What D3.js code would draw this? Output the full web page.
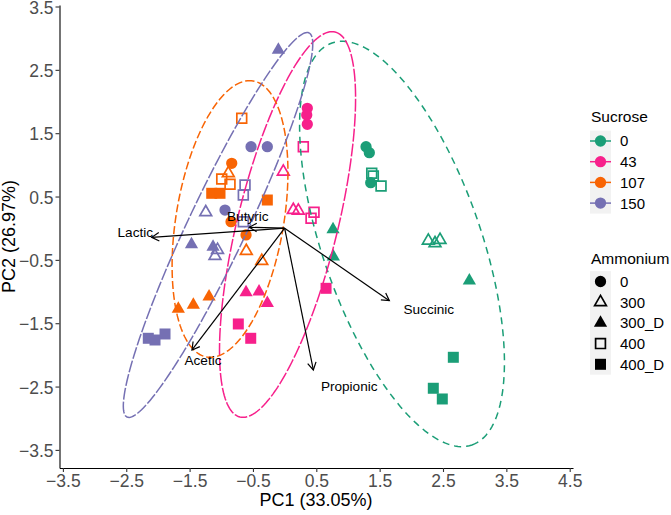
<!DOCTYPE html>
<html><head><meta charset="utf-8">
<script src="https://cdn.jsdelivr.net/npm/d3@7"></script>
<style>body{margin:0;background:#fff} text{font-family:"Liberation Sans", Arial, Helvetica, sans-serif}</style>
</head><body><svg id="c" width="671" height="515"></svg>
<script>
// ---------- data ----------
const sucroseLevels = ["0", "43", "107", "150"];
const ammoniumLevels = ["0", "300", "300_D", "400", "400_D"];
const sucroseColors = ["#1B9E77", "#F7208B", "#F86404", "#7570B3"];
const xTicks = [-3.5, -2.5, -1.5, -0.5, 0.5, 1.5, 2.5, 3.5, 4.5];
const yTicks = [-3.5, -2.5, -1.5, -0.5, 0.5, 1.5, 2.5, 3.5];

// scores (PC1, PC2), sucrose level, ammonium level
const pc1 = [
  1.285, 1.337, 1.359,   2.268, 2.374, 2.453,   0.764, 0.769, 2.916,   1.375, 1.400, 1.522,   2.663, 2.347, 2.489,
  0.358, 0.349, 0.358,   -0.021, 0.137, 0.216,  -0.609, -0.404, -0.273, 0.295, 0.464, 0.417,   0.654, -0.731, -0.535,
  -0.835, -0.846, -0.609, -0.889, -0.605, -0.361, -1.678, -1.441, -1.193, -0.677, -0.993, -0.862, -1.151, -1.020, -0.273,
  -0.530, -0.273, -0.941, -1.245, -1.059, -1.099, -0.099, -1.470, -1.130, -0.625, -0.652, -0.652, -2.152, -2.046, -1.888
];
const pc2 = [
  1.287, 1.192, 0.718,   -0.197, -0.238, -0.186, -0.020, -0.450, -0.829, 0.867, 0.824, 0.666,   -2.038, -2.527, -2.696,
  1.893, 1.787, 1.640,   0.892, 0.287, 0.276,    -1.012, -1.002, -1.185, 1.287, 0.251, 0.156,   -0.949, -1.512, -1.738,
  1.024, 0.103, -0.107,  0.867, -0.360, -0.518,  -1.275, -1.212, -1.081, 1.735, 0.777, 0.693,   0.551, 0.551, 0.445,
  1.287, 1.287, 0.287,   0.251, -0.344, -0.439,  2.813, -0.257, -0.297,  0.682, 0.524, 0.103,   -1.738, -1.765, -1.670
];
const ptSucrose = [].concat(...sucroseLevels.map(s => Array(15).fill(s)));
const ptAmmonium = [].concat(...sucroseLevels.map(() => [].concat(...ammoniumLevels.map(a => [a, a, a]))));

// 95% ellipses per sucrose level (centre, semi-axes, rotation in degrees)
const ellCx = [1.853, 0.046, -0.862, -1.051];
const ellCy = [-0.249, 0.058, 0.145, 0.051];
const ellA = [3.36, 3.13, 2.21, 3.355];
const ellB = [1.25, 0.79, 0.85, 0.46];
const ellAngle = [-70.8, 76.1, 80.5, 64.65];
const ellDash = ["7,5", "13,2", "8,3", "12,2"];

// loadings (arrow tips) and label positions
const loadNames = ["Lactic", "Butyric", "Acetic", "Propionic", "Succinic"];
const loadX = [-2.098, -0.557, -1.462, 0.453, 1.653];
const loadY = [-0.144, 0.014, -1.922, -2.238, -1.144];
const labX = [-2.357, -0.581, -1.288, 1.020, 2.276];
const labY = [-0.065, 0.193, -2.092, -2.502, -1.280];

// ---------- chart ----------
const svg = d3.select("#c");
const x0 = d3.scaleLinear().domain([-3.5, 4.5]).range([62.9, 569.7]);
const y0 = d3.scaleLinear().domain([-3.5, 3.5]).range([449.9, 6.5]);
const x = d3.scaleLinear().domain([x0.invert(59.5), x0.invert(573)]).range([59.5, 573]);
const y = d3.scaleLinear().domain([y0.invert(468), y0.invert(5)]).range([468, 5]);
const color = d3.scaleOrdinal().domain(sucroseLevels).range(sucroseColors);

const shapeInfo = {
  "0":     {type: d3.symbolCircle,   size: 100, fill: true},
  "300":   {type: d3.symbolTriangle, size: 60,  fill: false},
  "300_D": {type: d3.symbolTriangle, size: 76,  fill: true},
  "400":   {type: d3.symbolSquare,   size: 96,  fill: false},
  "400_D": {type: d3.symbolSquare,   size: 121, fill: true}
};
function drawSymbol(g, amm, col, cx, cy) {
  const s = shapeInfo[amm];
  g.append("path")
    .attr("d", d3.symbol().type(s.type).size(s.size)())
    .attr("transform", `translate(${cx},${cy})`)
    .attr("fill", s.fill ? col : "none")
    .attr("stroke", s.fill ? "none" : col)
    .attr("stroke-width", s.fill ? 0 : 1.7);
}

// axes
const xAxis = d3.axisBottom(x).tickValues(xTicks).tickFormat(d3.format(".1f")).tickSize(4).tickSizeOuter(0).tickPadding(3);
const yAxis = d3.axisLeft(y).tickValues(yTicks).tickFormat(d3.format(".1f")).tickSize(4).tickSizeOuter(0).tickPadding(2);
const gx = svg.append("g").attr("transform", "translate(0,468)").call(xAxis);
const gy = svg.append("g").attr("transform", "translate(59.5,0)").call(yAxis);
[gx, gy].forEach(g => {
  g.select(".domain").attr("stroke", "#000").attr("stroke-width", 1.1);
  g.selectAll(".tick line").attr("stroke", "#333").attr("stroke-width", 1.1);
  g.selectAll(".tick text").attr("fill", "#4D4D4D").style("font-size", "17.5px")
    .style("font-family", '"Liberation Sans", Arial, sans-serif');
});
gy.selectAll(".tick text").attr("dy", "0.38em");

svg.append("text").attr("x", 316).attr("y", 506).attr("text-anchor", "middle")
  .style("font-size", "18px").attr("fill", "#000").text("PC1 (33.05%)");
svg.append("text").attr("transform", "translate(15,236.5) rotate(-90)").attr("text-anchor", "middle")
  .style("font-size", "18px").attr("fill", "#000").text("PC2 (26.97%)");

// points
const gp = svg.append("g");
pc1.forEach((v, i) => drawSymbol(gp, ptAmmonium[i], color(ptSucrose[i]), x(v), y(pc2[i])));

// ellipses
const line = d3.line().x(d => x(d[0])).y(d => y(d[1]));
sucroseLevels.forEach((s, k) => {
  const th = ellAngle[k] * Math.PI / 180;
  const pts = d3.range(0, 361, 2).map(deg => {
    const t = deg * Math.PI / 180;
    const u = ellA[k] * Math.cos(t), w = ellB[k] * Math.sin(t);
    return [ellCx[k] + u * Math.cos(th) - w * Math.sin(th), ellCy[k] + u * Math.sin(th) + w * Math.cos(th)];
  });
  svg.append("path").attr("d", line(pts)).attr("fill", "none")
    .attr("stroke", sucroseColors[k]).attr("stroke-width", 1.5)
    .attr("stroke-dasharray", ellDash[k]);
});

// loadings arrows
const ga = svg.append("g");
loadNames.forEach((n, i) => {
  const xa = x(0), ya = y(0), xb = x(loadX[i]), yb = y(loadY[i]);
  ga.append("line").attr("x1", xa).attr("y1", ya).attr("x2", xb).attr("y2", yb)
    .attr("stroke", "#000").attr("stroke-width", 1.2);
  const ang = Math.atan2(yb - ya, xb - xa), L = 8.5, hw = Math.PI / 6;
  const p1 = [xb - L * Math.cos(ang - hw), yb - L * Math.sin(ang - hw)];
  const p2 = [xb - L * Math.cos(ang + hw), yb - L * Math.sin(ang + hw)];
  ga.append("path").attr("d", `M${p1[0]},${p1[1]}L${xb},${yb}L${p2[0]},${p2[1]}`)
    .attr("fill", "none").attr("stroke", "#000").attr("stroke-width", 1.2);
  ga.append("text").attr("x", x(labX[i])).attr("y", y(labY[i])).attr("dy", "0.35em")
    .attr("text-anchor", "middle").style("font-size", "13.6px").attr("fill", "#000").text(n);
});

// legends
const lg = svg.append("g");
lg.append("text").attr("x", 591).attr("y", 121.5).style("font-size", "15.5px").text("Sucrose");
const sKeyY = [141, 161.7, 182.4, 203.1];
lg.append("rect").attr("x", 590).attr("y", 130.6).attr("width", 21).attr("height", 83).attr("fill", "#F2F2F2");
sucroseLevels.forEach((s, k) => {
  lg.append("line").attr("x1", 590).attr("x2", 611).attr("y1", sKeyY[k]).attr("y2", sKeyY[k])
    .attr("stroke", sucroseColors[k]).attr("stroke-width", 1.5);
  drawSymbol(lg, "0", sucroseColors[k], 600.5, sKeyY[k]);
  lg.append("text").attr("x", 620).attr("y", sKeyY[k]).attr("dy", "0.36em").style("font-size", "15px").text(s);
});
lg.append("text").attr("x", 591).attr("y", 263.5).style("font-size", "15.5px").text("Ammonium");
const aKeyY = [281.5, 302.2, 322.9, 343.6, 364.3];
lg.append("rect").attr("x", 590).attr("y", 271.1).attr("width", 21).attr("height", 103.6).attr("fill", "#F2F2F2");
ammoniumLevels.forEach((a, k) => {
  drawSymbol(lg, a, "#000", 600.5, aKeyY[k]);
  lg.append("text").attr("x", 620).attr("y", aKeyY[k]).attr("dy", "0.36em").style("font-size", "15px").text(a);
});
</script></body></html>
